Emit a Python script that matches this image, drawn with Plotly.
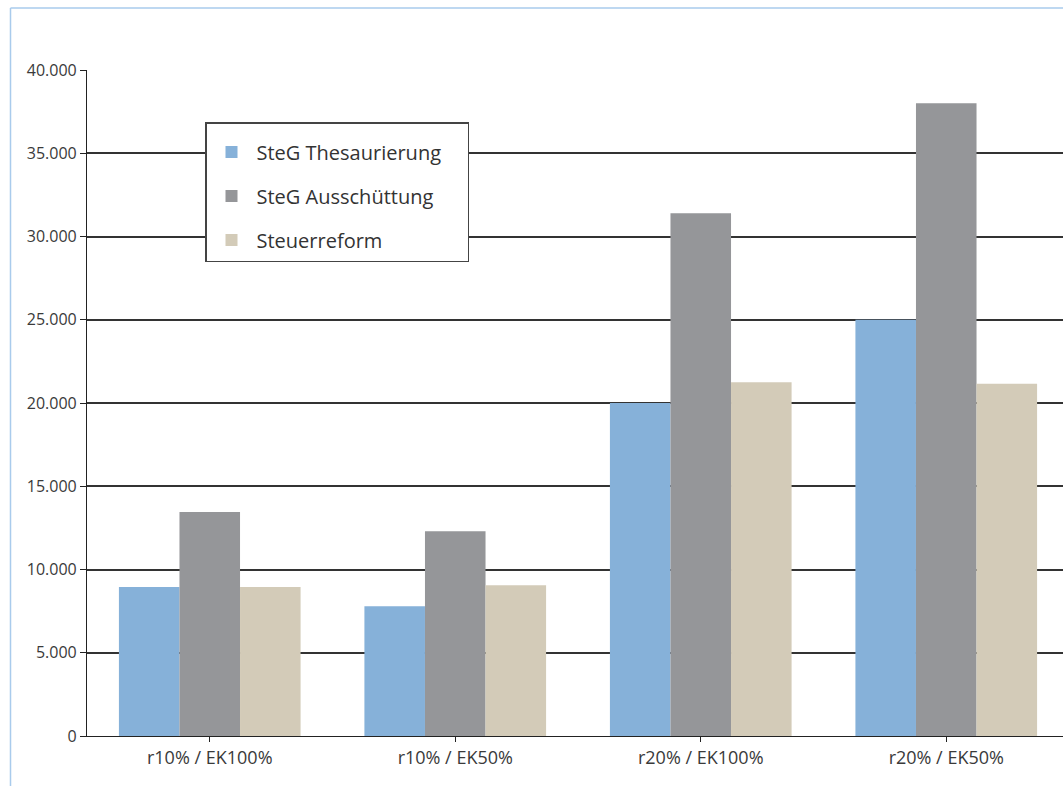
import plotly.graph_objects as go

categories = ["r10% / EK100%", "r10% / EK50%", "r20% / EK100%", "r20% / EK50%"]
series_names = ["SteG Thesaurierung", "SteG Ausschüttung", "Steuerreform"]
thesaurierung = [8950, 7800, 20000, 25000]
ausschuettung = [13450, 12300, 31400, 38000]
steuerreform = [8950, 9050, 21250, 21150]
y_ticks = [0, 5000, 10000, 15000, 20000, 25000, 30000, 35000, 40000]

colors = ["#86B1D9", "#959699", "#D3CBB8"]
values = [thesaurierung, ausschuettung, steuerreform]

W, H = 1063, 786
L, R, T, B = 87, 0, 70, 50
plot_w = W - L - R
plot_h = H - T - B

fig = go.Figure()
for i, (name, vals) in enumerate(zip(series_names, values)):
    label = name + ("\u00a0\u00a0\u00a0\u00a0" if i == 0 else "")
    fig.add_trace(go.Bar(
        x=list(range(len(categories))), y=vals, name=label,
        marker=dict(color=colors[i], line=dict(width=0)),
        legendgroup=f"g{i}",
    ))

unit = 245.5
x_max = -0.5 + plot_w / unit

def px_x(p):
    return (p - L) / plot_w

def px_y(p):
    return (H - B - p) / plot_h

fig.update_layout(
    width=W, height=H,
    margin=dict(l=L, r=R, t=T, b=B, pad=0),
    paper_bgcolor="white", plot_bgcolor="white",
    barmode="group", bargap=0.26, bargroupgap=0,
    separators=",.",
    font=dict(family="Open Sans", size=16, color="#3a3a3a"),
    xaxis=dict(
        range=[-0.5, x_max], tickmode="array",
        tickvals=list(range(len(categories))), ticktext=categories,
        tickson="boundaries", ticks="outside", ticklen=5, tickwidth=1.2,
        tickcolor="#222222", showline=True, linecolor="#222222", linewidth=1.2,
        showgrid=False, zeroline=False, tickfont=dict(size=18, color="#3a3a3a"),
    ),
    yaxis=dict(
        range=[0, 40000], tickmode="array", tickvals=y_ticks,
        tickformat=",d", ticks="outside", ticklen=6, tickwidth=1.2,
        tickcolor="#222222", showline=True, linecolor="#222222", linewidth=1.2,
        showgrid=True, gridcolor="#333333", gridwidth=1.5, zeroline=False,
        tickfont=dict(size=16, color="#3a3a3a"),
    ),
    legend=dict(
        x=px_x(205), y=px_y(122), xanchor="left", yanchor="top",
        bgcolor="white", bordercolor="#444444", borderwidth=1.5,
        font=dict(family="Open Sans", size=20, color="#333333"),
        tracegroupgap=15, traceorder="grouped", itemwidth=40,
        title=dict(text="\u00a0", font=dict(size=7)),
    ),
    shapes=[
        dict(type="line", xref="paper", yref="paper",
             x0=px_x(10.5), x1=px_x(10.5), y0=px_y(8), y1=px_y(800),
             line=dict(color="#A9CBEC", width=1.5)),
        dict(type="line", xref="paper", yref="paper",
             x0=px_x(10.5), x1=px_x(1080), y0=px_y(8), y1=px_y(8),
             line=dict(color="#A9CBEC", width=1.5)),
    ],
)

fig.write_html("out.html")
